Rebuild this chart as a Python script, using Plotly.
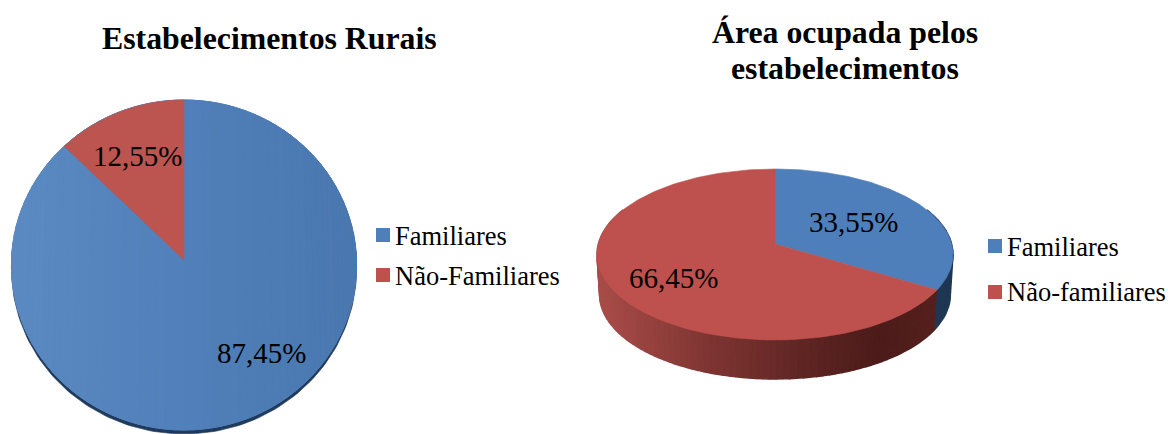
import numpy as np
import plotly.graph_objects as go

# ---- data ----
title_left = "Estabelecimentos Rurais"
title_right = ["Área ocupada pelos", "estabelecimentos"]
legend_left = ["Familiares", "Não-Familiares"]
legend_right = ["Familiares", "Não-familiares"]
values_left = [87.45, 12.55]
values_right = [33.55, 66.45]

# ---- style ----
W, H = 1168, 434
BLUE, RED = "#4F7FBB", "#BE514E"
SERIF = "Liberation Serif"
LEFT = dict(cx=184, ay=260, A=172.5, B=164.85, k=0.0303)
RIGHT = dict(cx=775, ay=244, A=176.7, B=84.2, k=0.1228)


def proj(theta, p, dy=0.0, scale=1.0):
    s = 1 / (1 + p["k"] * np.cos(theta))
    x = p["cx"] + scale * p["A"] * np.sin(theta) * s
    y = p["ay"] + dy - scale * p["B"] * np.cos(theta) * s
    return x, y


def sweep(v0, v1, n=160):
    return np.linspace(v0, v1, n) / 100 * 2 * np.pi


def poly(fig, x, y, color, name=None, lw=0.6):
    fig.add_trace(go.Scatter(x=list(x), y=list(y), mode="lines", fill="toself",
                             fillcolor=color, line=dict(color=color, width=lw),
                             hoverinfo="skip", showlegend=False, name=name))


def sector(fig, p, v0, v1, color, name):
    x, y = proj(sweep(v0, v1), p)
    poly(fig, np.r_[p["cx"], x, p["cx"]], np.r_[p["ay"], y, p["ay"]], color, name)


def lerp_color(stops, x):
    xs = [s[0] for s in stops]
    return "rgb(%d,%d,%d)" % tuple(np.interp(x, xs, [s[i] for s in stops]) for i in (1, 2, 3))


fig = go.Figure()

# left pie: thin dark rim, then a soft left-to-right sheen on the blue part
rim_x, rim_y = proj(sweep(0, 100, 240), LEFT, dy=4)
poly(fig, rim_x, rim_y, "#1F3A5C", "rim")
sheen = [(11, 92, 138, 194), (184, 81, 128, 186), (357, 74, 120, 175)]
edges = np.linspace(0, np.pi / 2, 31)
edges = np.r_[edges, np.pi - edges[-2::-1]]
for a, b in zip(edges[:-1], edges[1:]):
    t = np.linspace(a, b, 6)
    for sign in (1, -1):
        tx, ty = proj(sign * t, LEFT)
        tx2, ty2 = proj(sign * (np.pi - t[::-1]), LEFT)
        bx = np.r_[tx, tx2]
        by = np.r_[ty, ty2]
        poly(fig, bx, by, lerp_color(sheen, bx.mean()), lw=1)
sector(fig, LEFT, values_left[0], 100, "#BC5450", legend_left[1])

# right pie: side wall with a shaded band per step, then the top face
DY, SC = 40.4, 0.985
shade = [(597, 170, 77, 74), (700, 130, 55, 52), (800, 96, 38, 36), (880, 76, 28, 26), (940, 86, 32, 30)]
split = values_right[0]
blue_edges = np.linspace(18, split, 8)
red_edges = np.linspace(split, 82, 90)
for a, b in zip(blue_edges[:-1], blue_edges[1:]):
    t = sweep(a, b, 4)
    x0, y0 = proj(t, RIGHT)
    x1, y1 = proj(t[::-1], RIGHT, DY, SC)
    poly(fig, np.r_[x0, x1], np.r_[y0, y1], "#1F3652", lw=1.5)
for a, b in zip(red_edges[:-1], red_edges[1:]):
    t = sweep(a, b, 4)
    x0, y0 = proj(t, RIGHT)
    x1, y1 = proj(t[::-1], RIGHT, DY, SC)
    poly(fig, np.r_[x0, x1], np.r_[y0, y1], lerp_color(shade, x0.mean()), lw=1.5)
sector(fig, RIGHT, 0, split, BLUE, legend_right[0])
sector(fig, RIGHT, split, 100, RED, legend_right[1])

ann = []


def text(x, y, s, size, bold=False, anchor="center"):
    ann.append(dict(x=x, y=y, xref="x", yref="y", text=f"<b>{s}</b>" if bold else s, showarrow=False,
                    xanchor=anchor, yanchor="middle", align="center",
                    font=dict(family=SERIF, size=size, color="#000000")))


def pct(v):
    return f"{v:.2f}%".replace(".", ",")


text(269.5, 38, title_left, 31.8, True)
text(845, 32, title_right[0], 31.8, True)
text(845, 68, title_right[1], 31.8, True)
text(261, 353, pct(values_left[0]), 29)
text(137, 156, pct(values_left[1]), 29)
text(853, 222, pct(values_right[0]), 29)
text(673, 278, pct(values_right[1]), 29)

shapes = []
for lab, col, sy, ty, sx, tx in [
    (legend_left[0], BLUE, 228, 236, 376, 393), (legend_left[1], RED, 268, 276, 376, 393),
    (legend_right[0], BLUE, 239, 247, 988, 1005), (legend_right[1], RED, 285, 292, 988, 1005),
]:
    shapes.append(dict(type="rect", xref="x", yref="y", x0=sx, x1=sx + 14, y0=sy, y1=sy + 14,
                       fillcolor=col, line=dict(width=0)))
    text(tx, ty, lab, 26.5, anchor="left")

fig.update_layout(
    width=W, height=H, margin=dict(l=0, r=0, t=0, b=0), autosize=False,
    paper_bgcolor="white", plot_bgcolor="white", showlegend=False,
    xaxis=dict(range=[0, W], visible=False, fixedrange=True),
    yaxis=dict(range=[H, 0], visible=False, fixedrange=True),
    annotations=ann, shapes=shapes,
)
fig.write_html("out.html", config=dict(displayModeBar=False),
               post_script="document.body.style.margin='0';document.body.style.overflow='hidden';")
